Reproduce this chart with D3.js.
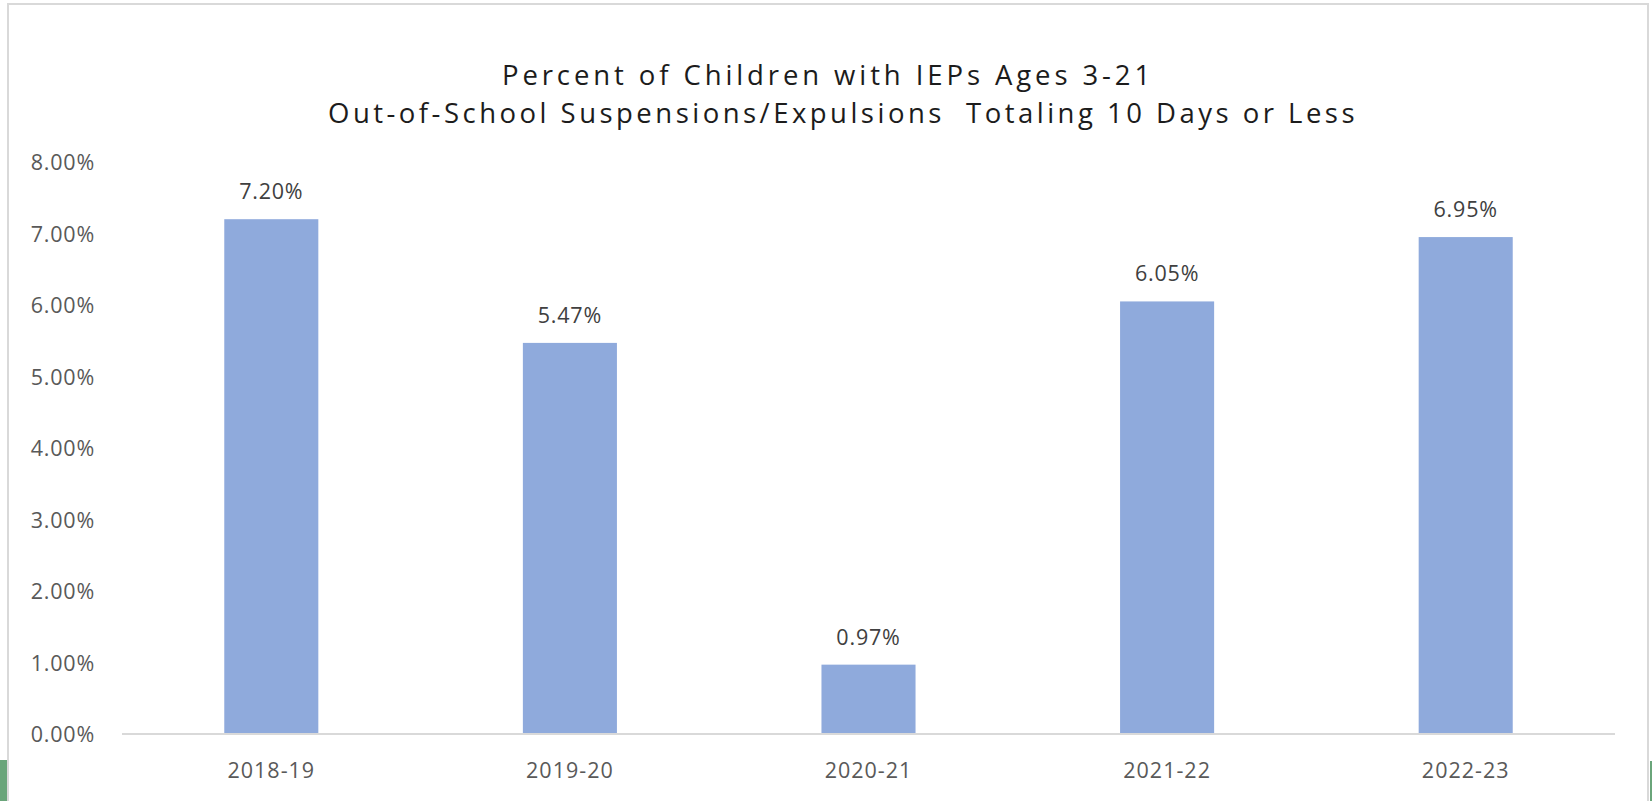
<!DOCTYPE html>
<html>
<head>
<meta charset="utf-8">
<script src="https://cdn.jsdelivr.net/npm/d3@7"></script>
<style>
  html, body { margin: 0; padding: 0; background: #ffffff; }
  svg { display: block; }
</style>
</head>
<body>
<svg id="chart" width="1652" height="801"></svg>
<script>
const categories = ["2018-19", "2019-20", "2020-21", "2021-22", "2022-23"];
const values = [7.20, 5.47, 0.97, 6.05, 6.95];
const yTicks = [0, 1, 2, 3, 4, 5, 6, 7, 8];
const titleLines = [
  "Percent of Children with IEPs Ages 3-21",
  "Out-of-School Suspensions/Expulsions\u00A0 Totaling 10 Days or Less"
];

const W = 1652, H = 801;
const svg = d3.select("#chart");
const font = "'Open Sans', 'Noto Sans', sans-serif";

// frame
svg.append("rect").attr("x", 0).attr("y", 0).attr("width", W).attr("height", H).attr("fill", "#ffffff");
svg.append("rect").attr("x", 0).attr("y", 760).attr("width", 7).attr("height", 41).attr("fill", "#6aa57a");
svg.append("rect").attr("x", 1650).attr("y", 761).attr("width", 2).attr("height", 40).attr("fill", "#6aa57a");
svg.append("path")
  .attr("d", `M8,801 V4 H1648 V801`)
  .attr("fill", "none").attr("stroke", "#d9d9d9").attr("stroke-width", 2);

const margin = { left: 122, right: 1615, top: 162, bottom: 734 };

const x = d3.scaleBand().domain(categories).range([margin.left, margin.right]).paddingInner(0.685).paddingOuter(0.3425);
const y = d3.scaleLinear().domain([0, 8]).range([margin.bottom, margin.top]);

// title
const titleSize = 27.5;
const titleTargets = [
  { cx: 828, baseline: 85, width: 652 },
  { cx: 843, baseline: 123, width: 1030 }
];
titleLines.forEach((t, i) => {
  const el = svg.append("text")
    .attr("x", titleTargets[i].cx).attr("y", titleTargets[i].baseline)
    .attr("text-anchor", "middle")
    .attr("font-family", font).attr("font-size", titleSize)
    .attr("fill", "#1c1c1c")
    .text(t);
  const w = el.node().getComputedTextLength();
  const ls = (titleTargets[i].width - w) / t.length;
  el.attr("letter-spacing", ls.toFixed(2) + "px");
});

const labelSize = 21.5;

// y axis (labels only)
const yAxis = d3.axisLeft(y).tickValues(yTicks).tickFormat(d => d.toFixed(2) + "%").tickSize(0).tickPadding(0);
const gy = svg.append("g").attr("transform", `translate(95,0)`).call(yAxis);
gy.select(".domain").remove();
gy.selectAll("text").attr("font-family", font).attr("font-size", labelSize)
  .attr("letter-spacing", "0.8px").attr("fill", "#595959").attr("dy", "0.36em");

// bars
svg.append("g").selectAll("rect").data(values).join("rect")
  .attr("x", (d, i) => x(categories[i]))
  .attr("y", d => y(d))
  .attr("width", x.bandwidth())
  .attr("height", d => y(0) - y(d))
  .attr("fill", "#8faadc");

// data labels
svg.append("g").selectAll("text").data(values).join("text")
  .attr("x", (d, i) => x(categories[i]) + x.bandwidth() / 2)
  .attr("y", d => y(d) - 20)
  .attr("text-anchor", "middle")
  .attr("font-family", font).attr("font-size", labelSize)
  .attr("letter-spacing", "0.8px")
  .attr("fill", "#404040")
  .text(d => d.toFixed(2) + "%");

// x axis
const xAxis = d3.axisBottom(x).tickSize(0).tickPadding(0);
const gx = svg.append("g").attr("transform", `translate(0,${margin.bottom})`).call(xAxis);
gx.select(".domain").attr("stroke", "#d9d9d9").attr("stroke-width", 2)
  .attr("d", `M${margin.left},0H${margin.right}`);
gx.selectAll("text").attr("font-family", font).attr("font-size", labelSize)
  .attr("letter-spacing", "1px").attr("fill", "#595959").attr("dy", null).attr("y", 44);
</script>
</body>
</html>
